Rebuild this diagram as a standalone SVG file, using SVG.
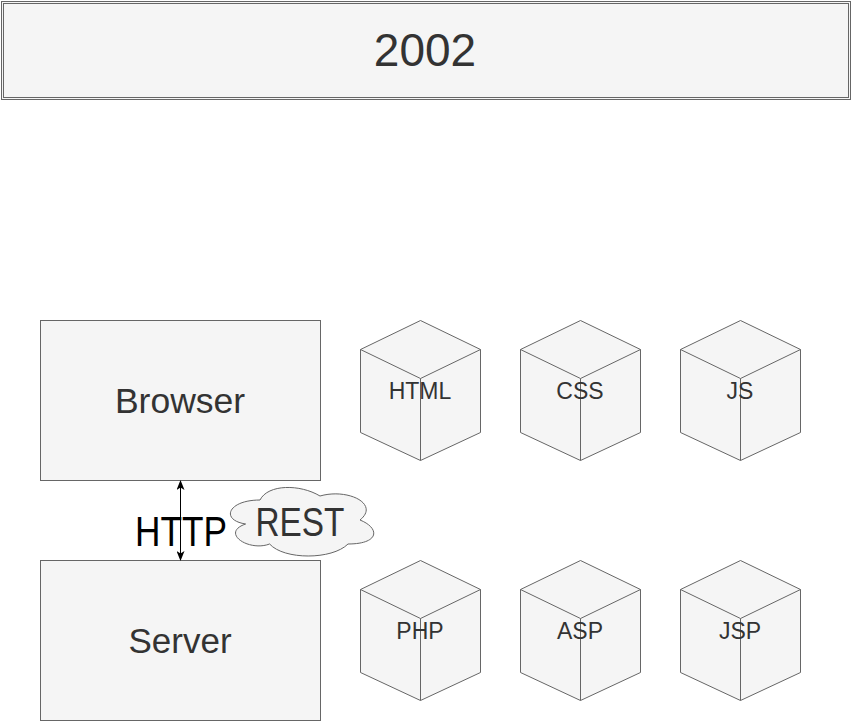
<svg xmlns="http://www.w3.org/2000/svg" width="852" height="722" viewBox="0 0 852 722">
<style>
.box{fill:#f5f5f5;stroke:#666;stroke-width:1}
.cube{fill:#f5f5f5;stroke:#666;stroke-width:1;stroke-linejoin:round}
.edge{fill:none;stroke:#666;stroke-width:1}
.t{font-family:"Liberation Sans",Arial,sans-serif;fill:#333;text-anchor:middle}
.ct{font-size:23px}
</style>
<defs>
<marker id="arr" viewBox="0 0 10 8" refX="9" refY="4" markerWidth="10" markerHeight="8" markerUnits="userSpaceOnUse" orient="auto-start-reverse">
<path d="M0,0 L10,4 L0,8 L2.5,4 Z" fill="#000"/>
</marker>
<g id="cubeShape">
<path class="cube" d="M0,-70 L60,-41 L60,42 L0,70 L-60,42 L-60,-41 Z"/>
<path class="edge" d="M-60,-41 L0,-12 L60,-41 M0,-12 L0,70"/>
</g>
</defs>
<rect width="852" height="722" fill="#fff"/>
<g id="title">
<rect class="box" x="1.5" y="1.5" width="849" height="98"/>
<rect x="3.5" y="3.5" width="845" height="94" fill="none" stroke="#666"/>
<text class="t" x="425" y="66" font-size="46">2002</text>
</g>
<g id="browser">
<rect class="box" x="40.5" y="320.5" width="280" height="160"/>
<text class="t" x="180" y="413" font-size="35.5">Browser</text>
</g>
<g id="server">
<rect class="box" x="40.5" y="560.5" width="280" height="160"/>
<text class="t" x="180" y="653" font-size="35">Server</text>
</g>
<g id="html"><use href="#cubeShape" x="420.5" y="390.5"/><text class="t ct" x="420" y="399">HTML</text></g>
<g id="css"><use href="#cubeShape" x="580.5" y="390.5"/><text class="t ct" x="580" y="399">CSS</text></g>
<g id="js"><use href="#cubeShape" x="740.5" y="390.5"/><text class="t ct" x="740" y="399">JS</text></g>
<g id="php"><use href="#cubeShape" x="420.5" y="630.5"/><text class="t ct" x="420" y="639">PHP</text></g>
<g id="asp"><use href="#cubeShape" x="580.5" y="630.5"/><text class="t ct" x="580" y="639">ASP</text></g>
<g id="jsp"><use href="#cubeShape" x="740.5" y="630.5"/><text class="t ct" x="740" y="639">JSP</text></g>
<g id="rest">
<path class="box" d="M260,500 C228,500 220,520 245.6,524 C220,532.8 248.8,552 269.6,544 C284,560 332,560 348,544 C380,544 380,528 360,520 C380,504 348,488 320,496 C300,484 268,484 260,500 Z"/>
<text class="t" x="300" y="536" font-size="41" textLength="89" lengthAdjust="spacingAndGlyphs">REST</text>
</g>
<g id="connectors">
<line x1="180.5" y1="481" x2="180.5" y2="560" stroke="#000" stroke-width="1" marker-start="url(#arr)" marker-end="url(#arr)"/>
<text x="181" y="546" font-family="'Liberation Sans',Arial,sans-serif" font-size="43" fill="#000" text-anchor="middle" textLength="92" lengthAdjust="spacingAndGlyphs">HTTP</text>
</g>
</svg>
